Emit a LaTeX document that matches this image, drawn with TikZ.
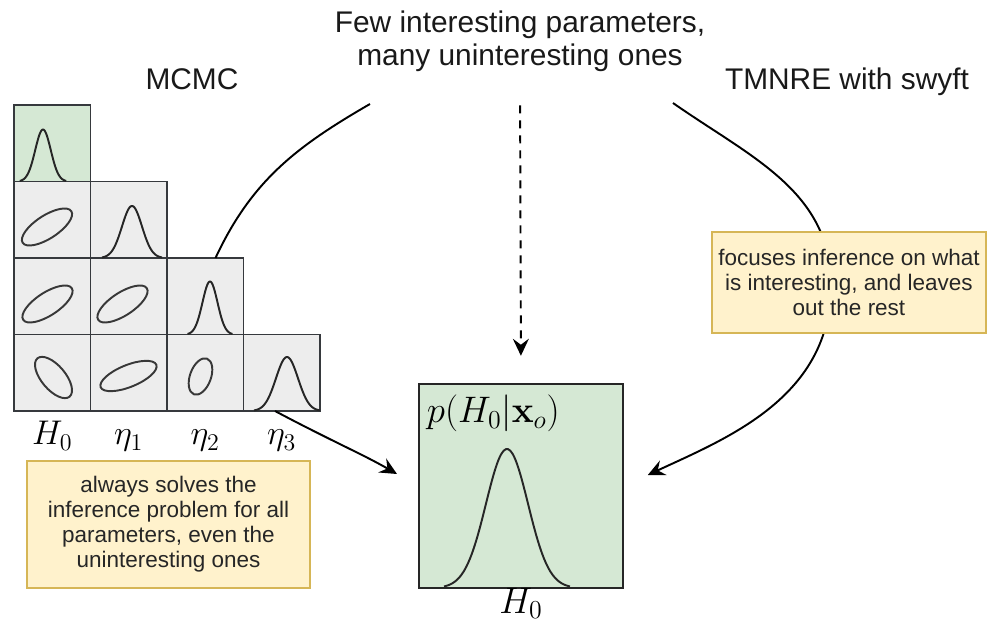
\documentclass[tikz,border=0pt]{standalone}
\usepackage{fix-cm}
\usepackage[no-math]{fontspec}
\newfontfamily\helv{Liberation Sans}
\usetikzlibrary{arrows.meta, positioning, calc}

\definecolor{notefill}{HTML}{FFF2CC}
\definecolor{noteline}{HTML}{D6B656}
\definecolor{postfill}{HTML}{D5E8D4}
\definecolor{cellfill}{HTML}{EDEDED}
\definecolor{cellline}{HTML}{36393D}

\newcommand{\headfont}{\helv\fontsize{17}{18.8}\selectfont}
\newcommand{\notefont}{\helv\fontsize{12.8}{14.2}\selectfont}

% 1d marginal: peak x, base y, height, width
\newcommand{\bump}[4]{%
  \draw[density] plot[domain=-3:3, samples=60, smooth]
    ({#1+#4*\x},{#2+#3*exp(-0.5*(\x)*(\x))});}
% 2d contour: centre x, centre y, angle, radii
\newcommand{\blob}[5]{%
  \draw[contour, rotate around={#3:(#1,#2)}] (#1,#2) ellipse (#4 and #5);}

\tikzset{
  cell/.style={
    rectangle, minimum size=1.53cm, inner sep=0pt, outer sep=0pt,
    draw=cellline, fill=cellfill, line width=1.1pt
  },
  margcell/.style={cell, fill=postfill},
  cellframe/.style={draw=cellline, line width=1.1pt},
  postbox/.style={
    rectangle, minimum size=4.08cm, inner sep=0pt,
    draw=black!85, fill=postfill, line width=1.4pt
  },
  notebox/.style={
    rectangle, inner sep=0pt, align=center,
    draw=noteline, fill=notefill, line width=0.8pt,
    text=black!85, font=\notefont
  },
  heading/.style={font=\headfont, align=center, inner sep=2pt, text=black!90},
  axislabel/.style={font=\fontsize{19.5}{22}\selectfont, inner sep=1pt},
  density/.style={line width=1.1pt, black!85},
  contour/.style={line width=1.1pt, black!78},
  arrow/.style={-{Stealth[length=3.4mm, width=3.2mm, inset=1.2mm]}, line width=1.1pt},
  dasharrow/.style={arrow, dash pattern=on 0.16cm off 0.14cm}
}

\begin{document}
\begin{tikzpicture}
  \useasboundingbox (0,0) rectangle (19.76,12.46);

  % Headings
  \node[heading] (title) at (10.4,11.64)
    {Few interesting parameters,\\many uninteresting ones};
  \node[heading, anchor=base] (mcmc) at (3.84,10.66) {MCMC};
  \node[heading, anchor=base] (tmnre) at (16.94,10.66) {TMNRE with swyft};

  % Corner plot
  \node[margcell] (c00) at (1.045,9.595) {};
  \node[cell, below=0pt of c00] (c10) {};
  \node[cell, right=0pt of c10] (c11) {};
  \node[cell, below=0pt of c10] (c20) {};
  \node[cell, right=0pt of c20] (c21) {};
  \node[cell, right=0pt of c21] (c22) {};
  \node[cell, below=0pt of c20] (c30) {};
  \node[cell, right=0pt of c30] (c31) {};
  \node[cell, right=0pt of c31] (c32) {};
  \node[cell, right=0pt of c32] (c33) {};
  % shared edges get half covered by the next fill, so stroke them again
  \foreach \c in {c00,c10,c11,c20,c21,c22,c30,c31,c32,c33}
    \draw[cellframe] (\c.south west) rectangle (\c.north east);

  \bump{0.86}{8.83}{1.04}{0.155}
  \bump{2.64}{7.30}{1.04}{0.2}
  \bump{4.20}{5.77}{1.06}{0.15}
  \bump{5.74}{4.24}{1.08}{0.22}

  \blob{0.94}{7.92}{33}{0.58}{0.23}
  \blob{0.95}{6.38}{33}{0.58}{0.23}
  \blob{2.45}{6.38}{33}{0.58}{0.23}
  \blob{1.07}{4.91}{-50}{0.5}{0.24}
  \blob{2.57}{4.94}{22}{0.6}{0.22}
  \blob{4.01}{4.93}{70}{0.38}{0.21}

  \node[axislabel, below=0.68cm of c30, anchor=base] (lab0) {$H_0$};
  \node[axislabel, below=0.68cm of c31, anchor=base] (lab1) {$\eta_1$};
  \node[axislabel, below=0.68cm of c32, anchor=base] (lab2) {$\eta_2$};
  \node[axislabel, below=0.68cm of c33, anchor=base] (lab3) {$\eta_3$};

  % Posterior of interest
  \node[postbox] (post) at (10.42,2.74) {};
  \bump{10.14}{0.70}{2.78}{0.42}
  \node[axislabel, font=\fontsize{21}{24}\selectfont,
        below right=0.2cm and 0.14cm of post.north west] (plabel)
    {$p(H_0|\mathbf{x}_o)$};
  \node[axislabel, font=\fontsize{21}{24}\selectfont,
        below=0.48cm of post, anchor=base] (postaxis) {$H_0$};

  % Connectors
  \coordinate (lend) at (7.4,10.38);
  \coordinate (rend) at (13.46,10.4);
  \coordinate (rmid) at (16.62,6.76);

  \draw[line width=1.1pt] (c22.75) to[out=65, in=210] (lend);
  \draw[arrow, shorten >=0.48cm] (c33.-100) to[out=-28, in=150] (post.west);
  \draw[dasharrow, shorten <=0.6cm, shorten >=0.54cm] (title.south) -- (post.north);
  \draw[arrow, shorten >=0.52cm] (rend) to[out=-35, in=90] (rmid)
    to[out=-90, in=25] (post.east);

  % Notes
  \node[notebox, minimum width=5.66cm, minimum height=2.54cm] (always) at (3.37,1.97)
    {always solves the\\inference problem for all\\parameters, even the\\uninteresting ones};
  \node[notebox, minimum width=5.48cm, minimum height=2.02cm] (focus) at (16.98,6.81)
    {focuses inference on what\\is interesting, and leaves\\out the rest};

\end{tikzpicture}
\end{document}
